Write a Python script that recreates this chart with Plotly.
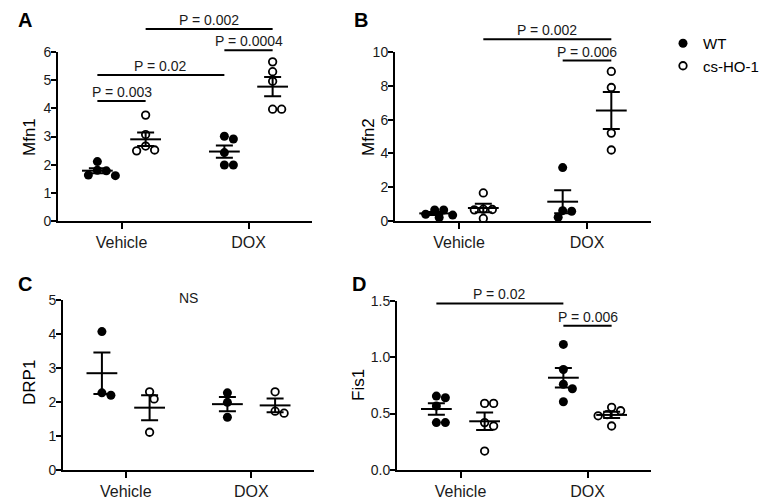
import numpy as np
import plotly.graph_objects as go

W, H = 769, 501

categories = ["Vehicle", "DOX"]
groups = ["WT", "cs-HO-1"]

# Panel A - Mfn1  (values per group: WT Vehicle, cs-HO-1 Vehicle, WT DOX, cs-HO-1 DOX)
mfn1_wt_vehicle = [2.11, 1.80, 1.78, 1.63, 1.61]
mfn1_cs_vehicle = [3.76, 3.07, 2.66, 2.49, 2.52]
mfn1_wt_dox = [2.91, 3.01, 2.43, 1.99, 1.99]
mfn1_cs_dox = [5.65, 5.30, 4.96, 3.97, 3.97]

# Panel B - Mfn2
mfn2_wt_vehicle = [0.65, 0.65, 0.40, 0.35, 0.20]
mfn2_cs_vehicle = [1.66, 0.70, 0.66, 0.68, 0.15]
mfn2_wt_dox = [3.16, 0.61, 0.58, 0.22]
mfn2_cs_dox = [8.85, 7.90, 5.20, 4.20]

# Panel C - DRP1
drp1_wt_vehicle = [4.07, 2.20, 2.27]
drp1_cs_vehicle = [2.30, 2.09, 1.11]
drp1_wt_dox = [2.27, 1.99, 1.55]
drp1_cs_dox = [2.30, 1.67, 1.73]

# Panel D - Fis1
fis1_wt_vehicle = [0.64, 0.655, 0.567, 0.42, 0.42]
fis1_cs_vehicle = [0.59, 0.59, 0.42, 0.39, 0.168]
fis1_wt_dox = [1.113, 0.89, 0.76, 0.72, 0.605]
fis1_cs_dox = [0.555, 0.525, 0.48, 0.49, 0.39]

# Significance comparisons: ((category, group), (category, group), bar level, label)
mfn1_sig = [((0, 0), (0, 1), 4.26, "P = 0.003"),
            ((0, 0), (1, 0), 5.18, "P = 0.02"),
            ((1, 0), (1, 1), 6.06, "P = 0.0004"),
            ((0, 1), (1, 1), 6.82, "P = 0.002")]
mfn2_sig = [((1, 0), (1, 1), 9.49, "P = 0.006"),
            ((0, 1), (1, 1), 10.75, "P = 0.002")]
drp1_sig = []
fis1_sig = [((0, 0), (1, 0), 1.476, "P = 0.02"),
            ((1, 0), (1, 1), 1.278, "P = 0.006")]
drp1_note = "NS"

panels = [
    dict(letter="A", title="Mfn1", ymax=6, dtick=1, fmt="d", sig=mfn1_sig,
         data=[[mfn1_wt_vehicle, mfn1_cs_vehicle], [mfn1_wt_dox, mfn1_cs_dox]],
         px=dict(x0=58, x1=312, y0=221, ytop=52, otop=4), lab=(25, 20), tit=(29, 137)),
    dict(letter="B", title="Mfn2", ymax=10, dtick=2, fmt="d", sig=mfn2_sig,
         data=[[mfn2_wt_vehicle, mfn2_cs_vehicle], [mfn2_wt_dox, mfn2_cs_dox]],
         px=dict(x0=395, x1=651, y0=221, ytop=52, otop=4), lab=(361, 20), tit=(368, 137)),
    dict(letter="C", title="DRP1", ymax=5, dtick=1, fmt="d", sig=drp1_sig,
         data=[[drp1_wt_vehicle, drp1_cs_vehicle], [drp1_wt_dox, drp1_cs_dox]],
         px=dict(x0=63, x1=314, y0=470, ytop=300, otop=268), lab=(25, 284), tit=(29, 383)),
    dict(letter="D", title="Fis1", ymax=1.5, dtick=0.5, fmt=".1f", sig=fis1_sig,
         data=[[fis1_wt_vehicle, fis1_cs_vehicle], [fis1_wt_dox, fis1_cs_dox]],
         px=dict(x0=397, x1=651, y0=470, ytop=300.7, otop=268), lab=(359, 284), tit=(358, 385)),
]

FONT = "Liberation Sans, Arial, sans-serif"
GROUP_OFFSET = 0.19
XRANGE = [-0.5, 1.5]
DOT = 9.0


def swarm(values, ppx_x, ppx_y, d=DOT):
    vals = np.asarray(values, dtype=float)
    order = np.argsort(-vals)
    placed = []
    offs = np.zeros(len(vals))
    step = d / 2.0
    cands = [0.0] + [s * j * step for j in range(1, 12) for s in (1, -1)]
    for i in order:
        yv = vals[i] * ppx_y
        chosen = cands[-1]
        for c in cands:
            if all((c - px) ** 2 + (yv - py) ** 2 >= (0.88 * d) ** 2 for px, py in placed):
                chosen = c
                break
        placed.append((chosen, yv))
        offs[i] = chosen / ppx_x
    return offs


fig = go.Figure()
layout_axes = {}
annotations = []

for k, p in enumerate(panels):
    n = k + 1
    xa = "x" if n == 1 else f"x{n}"
    ya = "y" if n == 1 else f"y{n}"
    yo = f"y{n + 4}"
    q = p["px"]
    ppx_x = (q["x1"] - q["x0"]) / (XRANGE[1] - XRANGE[0])
    ppx_y = (q["y0"] - q["ytop"]) / p["ymax"]
    otop_val = (q["y0"] - q["otop"]) / ppx_y

    for ci, cat in enumerate(categories):
        for gi, grp in enumerate(groups):
            vals = p["data"][ci][gi]
            center = ci + (-GROUP_OFFSET if gi == 0 else GROUP_OFFSET)
            xs = center + swarm(vals, ppx_x, ppx_y)
            if gi == 0:
                marker = dict(symbol="circle", size=DOT, color="black", line=dict(width=0))
            else:
                marker = dict(symbol="circle-open", size=DOT - 1.5, color="black",
                              line=dict(width=1.8, color="black"))
            fig.add_trace(go.Scatter(
                x=xs, y=vals, mode="markers", marker=marker, name=grp,
                legendgroup=grp, showlegend=(n == 1 and ci == 0),
                xaxis=xa, yaxis=ya, cliponaxis=False, hoverinfo="y"))
    # mean +/- SEM
    for ci, cat in enumerate(categories):
        for gi, grp in enumerate(groups):
            vals = np.asarray(p["data"][ci][gi], dtype=float)
            mean = vals.mean()
            sem = vals.std(ddof=1) / np.sqrt(len(vals))
            center = ci + (-GROUP_OFFSET if gi == 0 else GROUP_OFFSET)
            fig.add_trace(go.Scatter(
                x=[center], y=[mean], mode="markers",
                marker=dict(symbol="line-ew", size=22, color="black",
                            line=dict(width=2, color="black")),
                error_y=dict(type="data", array=[sem], symmetric=True,
                             color="black", thickness=2, width=8.5),
                showlegend=False, xaxis=xa, yaxis=ya, cliponaxis=False,
                hoverinfo="skip"))
    # significance bars
    for (a, b, lvl, lab) in p["sig"]:
        xa_ = a[0] + (-GROUP_OFFSET if a[1] == 0 else GROUP_OFFSET)
        xb_ = b[0] + (-GROUP_OFFSET if b[1] == 0 else GROUP_OFFSET)
        fig.add_trace(go.Scatter(
            x=[xa_, xb_], y=[lvl, lvl], mode="lines",
            line=dict(color="black", width=2), showlegend=False,
            xaxis=xa, yaxis=yo, hoverinfo="skip"))
        annotations.append(dict(
            x=(xa_ + xb_) / 2, y=lvl, xref=xa, yref=yo, text=lab, showarrow=False,
            xanchor="center", yanchor="bottom", yshift=-1,
            font=dict(family=FONT, size=14, color="#1a1a1a")))
    if p["letter"] == "C":
        annotations.append(dict(
            x=0.5, y=5.06, xref=xa, yref=yo, text=drp1_note, showarrow=False,
            xanchor="center", yanchor="middle",
            font=dict(family=FONT, size=14, color="#1a1a1a")))

    xdom = [q["x0"] / W, q["x1"] / W]
    ydom = [1 - q["y0"] / H, 1 - q["ytop"] / H]
    odom = [1 - q["y0"] / H, 1 - q["otop"] / H]
    key_x = "xaxis" if n == 1 else f"xaxis{n}"
    key_y = "yaxis" if n == 1 else f"yaxis{n}"
    layout_axes[key_x] = dict(
        domain=xdom, range=XRANGE, anchor=ya, tickmode="array",
        tickvals=[0, 1], ticktext=categories, showline=True, linewidth=2,
        linecolor="black", ticks="outside", ticklen=6, tickwidth=2,
        tickcolor="black", showgrid=False, zeroline=False,
        tickfont=dict(family=FONT, size=16, color="#1a1a1a"))
    layout_axes[key_y] = dict(
        domain=ydom, range=[0, p["ymax"]], anchor=xa, dtick=p["dtick"],
        tick0=0, tickformat=p["fmt"], showline=True, linewidth=2,
        linecolor="black", ticks="outside", ticklen=5, tickwidth=2,
        tickcolor="black", showgrid=False, zeroline=False,
        ticklabelstandoff=-3,
        tickfont=dict(family=FONT, size=14, color="#1a1a1a"))
    layout_axes[f"yaxis{n + 4}"] = dict(
        domain=odom, range=[0, otop_val], anchor=xa, visible=False,
        showgrid=False, zeroline=False)

    annotations.append(dict(
        x=p["lab"][0] / W, y=1 - p["lab"][1] / H, xref="paper", yref="paper",
        text=f"<b>{p['letter']}</b>", showarrow=False, xanchor="center",
        yanchor="middle", font=dict(family=FONT, size=20, color="black")))
    annotations.append(dict(
        x=p["tit"][0] / W, y=1 - p["tit"][1] / H, xref="paper", yref="paper",
        text=p["title"], textangle=-90, showarrow=False, xanchor="center",
        yanchor="middle", font=dict(family=FONT, size=17, color="black")))

fig.update_layout(
    width=W, height=H, margin=dict(l=0, r=0, t=0, b=0, autoexpand=False),
    paper_bgcolor="white", plot_bgcolor="rgba(0,0,0,0)",
    showlegend=True,
    legend=dict(x=663 / W, y=1 - 27 / H, xanchor="left", yanchor="top",
                xref="container", yref="container",
                bgcolor="rgba(0,0,0,0)", font=dict(family=FONT, size=15, color="black"),
                tracegroupgap=0, itemsizing="trace"),
    annotations=annotations,
    **layout_axes)

fig.write_html("out.html", config={"displayModeBar": False},
               post_script="document.body.style.margin='0';document.body.style.overflow='hidden';")
